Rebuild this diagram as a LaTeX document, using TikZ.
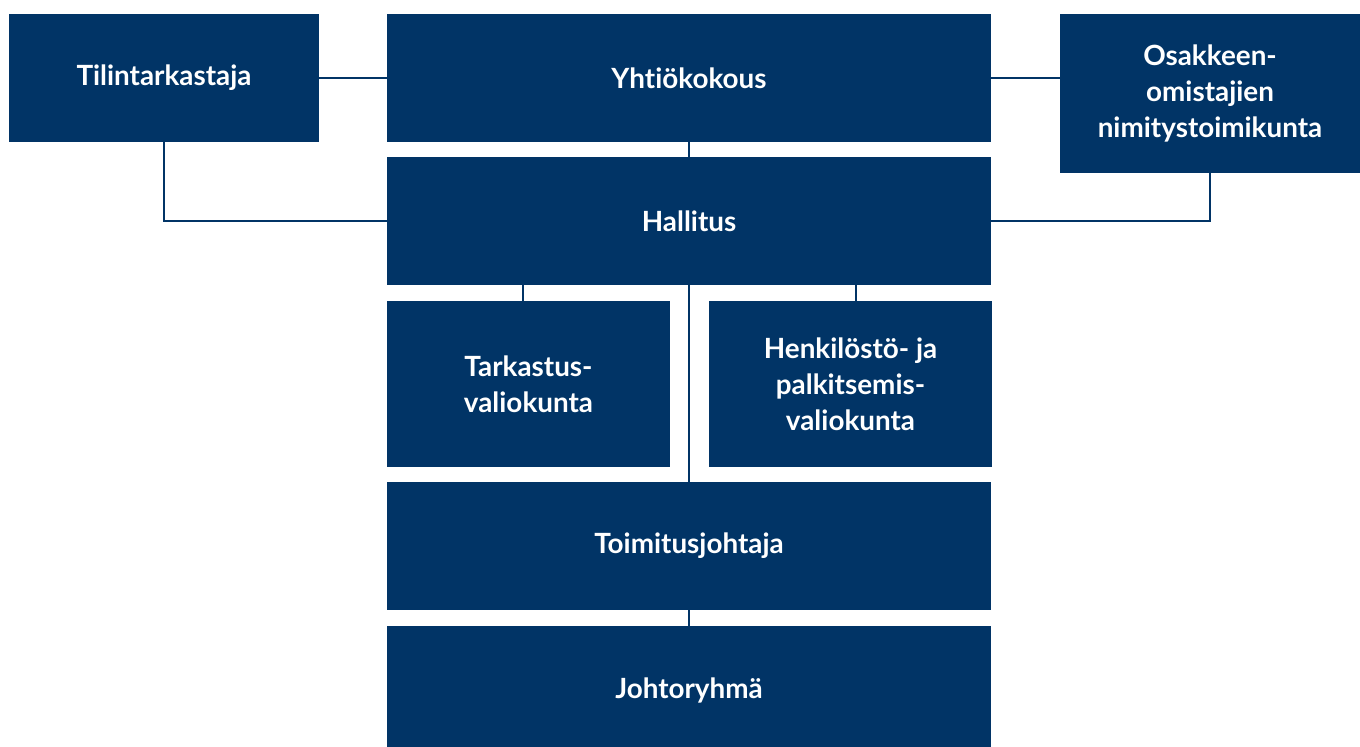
\documentclass[tikz,border=0pt]{standalone}
\usepackage{fontspec}
\setmainfont{Lato}[Ligatures={NoCommon}]
\usepackage{tikz}
\usetikzlibrary{positioning, calc}
\definecolor{navy}{HTML}{013466}

\begin{document}
\begin{tikzpicture}[
  x=0.025cm, y=-0.025cm,
  box/.style={fill=navy, draw=none, text=white, align=center,
    inner sep=0pt, font=\fontsize{19.8}{25.5}\selectfont\bfseries},
  link/.style={draw=navy, line width=0.9pt}
]
  \useasboundingbox (0,0) rectangle (1360,747);

  % Top row
  \node[box, minimum width=7.75cm, minimum height=3.2cm] (tilin) at (164,78) {Tilintarkastaja};
  \node[box, minimum width=15.1cm, minimum height=3.2cm] (yhtio) at (689,78) {Yhtiökokous};
  \node[box, minimum width=7.5cm, minimum height=3.975cm] (osakk) at (1210,93.5)
    {Osakkeen-\\omistajien\\nimitystoimikunta};

  % Board and committees
  \node[box, minimum width=15.1cm, minimum height=3.2cm] (hall) at (689,221) {Hallitus};
  \node[box, minimum width=7.075cm, minimum height=4.15cm] (tark) at (528.5,384)
    {Tarkastus-\\valiokunta};
  \node[box, minimum width=7.075cm, minimum height=4.15cm] (henk) at (850.5,384)
    {Henkilöstö- ja\\palkitsemis-\\valiokunta};

  % Management
  \node[box, minimum width=15.1cm, minimum height=3.2cm] (toim) at (689,546) {Toimitusjohtaja};
  \node[box, minimum width=15.1cm, minimum height=3.2cm] (johto) at (689,690) {Johtoryhmä};

  % Connectors
  \draw[link] (tilin.east) -- (yhtio.west);
  \draw[link] (yhtio.east) -- (yhtio.east -| osakk.west);
  \draw[link] (yhtio.south) -- (hall.north);
  \draw[link] (tilin.south) |- (hall.west);
  \draw[link] (osakk.south) |- (hall.east);
  \draw[link] ([xshift=-0.14cm]tark.north) -- ([xshift=-0.14cm]tark.north |- hall.south);
  \draw[link] ([xshift=0.14cm]henk.north) -- ([xshift=0.14cm]henk.north |- hall.south);
  \draw[link] (hall.south) -- (toim.north);
  \draw[link] (toim.south) -- (johto.north);
\end{tikzpicture}
\end{document}
